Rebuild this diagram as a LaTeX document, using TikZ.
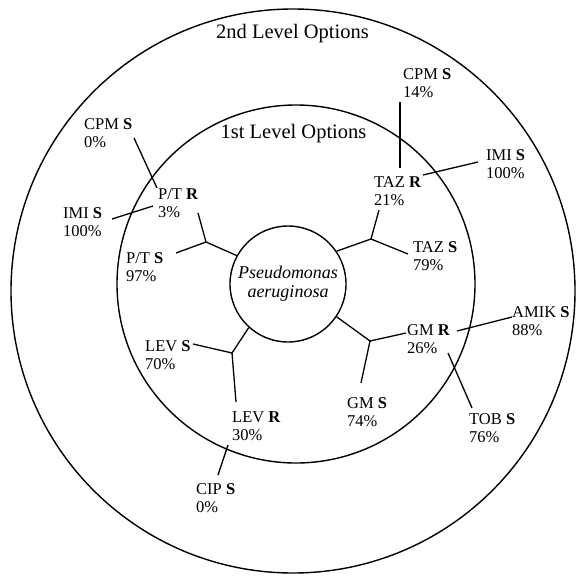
\documentclass[tikz,border=0pt]{standalone}
\usepackage{fontspec}
\setmainfont{Liberation Serif}
\newcommand\twoline[2]{\begin{tabular}[t]{@{}l@{}}#1\\#2\end{tabular}}
\begin{document}
\begin{tikzpicture}[x=1pt,y=-1pt,
  conn/.style={line width=1.3pt},
  ring/.style={draw,circle,line width=1.4pt,inner sep=0pt},
  lbl/.style={anchor=base west,inner sep=0pt,font=\fontsize{16.5}{18}\selectfont},
  title/.style={anchor=base,inner sep=0pt,font=\fontsize{20.5}{24}\selectfont}]
\useasboundingbox (0,0) rectangle (577,575);
% circles
\node[ring,minimum size=564pt] (outer) at (293,291) {};
\node[ring,minimum size=358pt] (inner) at (296,284) {};
\node[ring,minimum size=116pt,align=center,font=\fontsize{18}{19}\selectfont\itshape] (pa) at (288,284) {Pseudomonas\\aeruginosa};
% titles
\node[title] (t2) at (292.5,39) {2nd Level Options};
\node[title] (t1) at (293.5,138) {1st Level Options};
% labels
\node[lbl] (cpmL) at (84,129) {\twoline{CPM \textbf{S}}{0\%}};
\node[lbl] (ptR) at (158,199) {\twoline{P/T \textbf{R}}{3\%}};
\node[lbl] (imiL) at (63,218) {\twoline{IMI \textbf{S}}{100\%}};
\node[lbl] (ptS) at (126,263) {\twoline{P/T \textbf{S}}{97\%}};
\node[lbl] (cpmR) at (403,80) {\twoline{CPM \textbf{S}}{14\%}};
\node[lbl] (tazR) at (374,187) {\twoline{TAZ \textbf{R}}{21\%}};
\node[lbl] (imiR) at (486,160) {\twoline{IMI \textbf{S}}{100\%}};
\node[lbl] (tazS) at (413,252) {\twoline{TAZ \textbf{S}}{79\%}};
\node[lbl] (gmR) at (407,335) {\twoline{GM \textbf{R}}{26\%}};
\node[lbl] (amik) at (512,317) {\twoline{AMIK \textbf{S}}{88\%}};
\node[lbl] (tob) at (469,424) {\twoline{TOB \textbf{S}}{76\%}};
\node[lbl] (gmS) at (347,408) {\twoline{GM \textbf{S}}{74\%}};
\node[lbl] (levR) at (232,422) {\twoline{LEV \textbf{R}}{30\%}};
\node[lbl] (levS) at (145,351) {\twoline{LEV \textbf{S}}{70\%}};
\node[lbl] (cip) at (196,494) {\twoline{CIP \textbf{S}}{0\%}};
% connector end points
\coordinate (cpmLe) at (134,138); \coordinate (ptRa) at (157,188);
\coordinate (imiLe) at (112,219); \coordinate (ptRb) at (153,206);
\coordinate (ptRc) at (198,213); \coordinate (J1) at (206,242);
\coordinate (ptSe) at (176,253);
\coordinate (cpmRe) at (400,102); \coordinate (tazRa) at (400,168);
\coordinate (tazRb) at (423,175); \coordinate (imiRe) at (478,162);
\coordinate (tazRc) at (379,210); \coordinate (J2) at (371,239);
\coordinate (tazSe) at (408,254);
\coordinate (J3) at (370,341); \coordinate (gmRa) at (406,333);
\coordinate (gmSe) at (361,383);
\coordinate (gmRb) at (457,331); \coordinate (amikE) at (512,317);
\coordinate (gmRc) at (448,353); \coordinate (tobE) at (472,408);
\coordinate (J4) at (232,353); \coordinate (levSe) at (193,344);
\coordinate (levRa) at (236,402);
\coordinate (levRb) at (228,445); \coordinate (cipE) at (218,475);
% connectors
\draw[conn] (cpmLe) -- (ptRa);
\draw[conn] (imiLe) -- (ptRb);
\draw[conn] (ptRc) -- (J1) -- (ptSe);
\draw[conn] (J1) -- (pa.151);
\draw[conn] (cpmRe) -- (tazRa);
\draw[conn] (tazRb) -- (imiRe);
\draw[conn] (tazRc) -- (J2) -- (tazSe);
\draw[conn] (J2) -- (pa.34);
\draw[conn] (pa.-34) -- (J3) -- (gmRa);
\draw[conn] (J3) -- (gmSe);
\draw[conn] (gmRb) -- (amikE);
\draw[conn] (gmRc) -- (tobE);
\draw[conn] (pa.228) -- (J4) -- (levSe);
\draw[conn] (J4) -- (levRa);
\draw[conn] (levRb) -- (cipE);
\end{tikzpicture}
\end{document}
